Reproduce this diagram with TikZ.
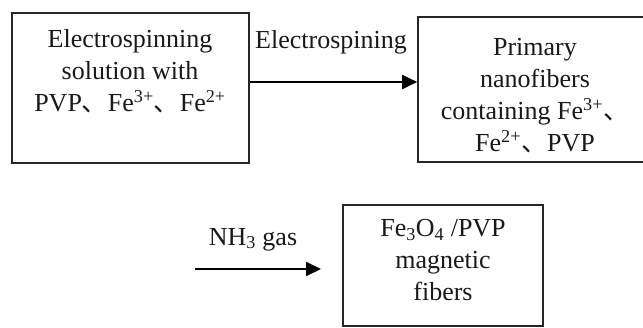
\documentclass[tikz,border=0pt]{standalone}
\usepackage{fontspec}
\setmainfont{Liberation Serif}
\newfontfamily\cjk{Noto Sans CJK SC}
\usetikzlibrary{arrows.meta}
\newcommand{\cm}{{\cjk 、}}
\tikzset{
  boxnode/.style={draw=black!85, line width=1.6pt, inner sep=0pt},
  txt/.style={font=\fontsize{26}{32}\selectfont, align=center, inner sep=0pt, text=black!90},
  arr/.style={line width=1.9pt, -{Triangle[length=15pt,width=14pt]}}
}
\begin{document}
\begin{tikzpicture}[x=1pt,y=-1pt]
\useasboundingbox (0,0) rectangle (643,327);
\clip (0,0) rectangle (643,327);
% boxes
\node[boxnode, minimum width=237pt, minimum height=150pt] (b1) at (130.5,88) {};
\node[boxnode, minimum width=234pt, minimum height=145pt] (b2) at (535,89.5) {};
\node[boxnode, minimum width=200pt, minimum height=121pt] (b3) at (443,265.5) {};
% texts
\node[txt, anchor=north] (t1) at (130,29) {Electrospinning\\solution with\\PVP\cm Fe\textsuperscript{3+}\cm Fe\textsuperscript{2+}};
\node[txt, anchor=north] (t2) at (535,38) {Primary\\nanofibers\\containing Fe\textsuperscript{3+}\cm\\Fe\textsuperscript{2+}\cm PVP};
\node[txt, anchor=north] (t3) at (443,219) {Fe\textsubscript{3}O\textsubscript{4} /PVP\\magnetic\\fibers};
% arrows
\draw[arr] (b1.east |- 0,82) coordinate (a1s) -- (b2.west |- a1s) coordinate (a1e);
\node[txt, anchor=base] (l1) at (331,48) {Electrospining};
\coordinate (a2s) at (195,269);
\coordinate (a2e) at (321,269);
\draw[arr] (a2s) -- (a2e);
\node[txt, anchor=base] (l2) at (253,245) {NH\textsubscript{3} gas};
\end{tikzpicture}
\end{document}
